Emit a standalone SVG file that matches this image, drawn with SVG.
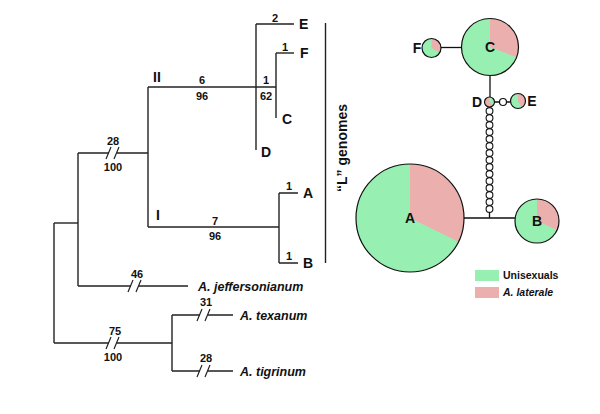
<svg xmlns="http://www.w3.org/2000/svg" width="600" height="414" viewBox="0 0 600 414">
<style>
.br{stroke:#222;stroke-width:1.4;fill:none}
.sl{stroke:#222;stroke-width:1.2;fill:none}
.n{font-family:"Liberation Sans",Arial,sans-serif;font-weight:bold;font-size:11px;fill:#111;text-anchor:middle}
.t{font-family:"Liberation Sans",Arial,sans-serif;font-weight:bold;font-size:14px;fill:#111}
.sp{font-family:"Liberation Sans",Arial,sans-serif;font-weight:bold;font-style:italic;font-size:12.5px;fill:#111}
.g{fill:#97EFB2}
.p{fill:#EBB0AE}
.o{fill:none;stroke:#111;stroke-width:1.2}
.ln{stroke:#111;stroke-width:1.3;fill:none}
.lg{font-family:"Liberation Sans",Arial,sans-serif;font-weight:bold;font-size:10.5px;fill:#111}
</style>
<g id="connectors">
<!-- root -->
<path class="br" d="M54,223 V343"/>
<path class="br" d="M54,223 H78"/>
<path class="br" d="M78,153 V286"/>
<path class="br" d="M78,153 H109 M117,153 H148"/>
<path class="sl" d="M106,159 L111,147 M114,159 L119,147"/>
<path class="br" d="M148,87 V227"/>
<path class="br" d="M148,87 H276"/>
<path class="br" d="M256,24 V150"/>
<path class="br" d="M256,24 H294"/>
<path class="br" d="M276,53 V118"/>
<path class="br" d="M276,53 H294"/>
<path class="br" d="M148,227 H279"/>
<path class="br" d="M279,193 V263"/>
<path class="br" d="M279,193 H298 M279,263 H298"/>
<path class="br" d="M78,286 H131 M139,286 H188"/>
<path class="sl" d="M128,292 L133,280 M136,292 L141,280"/>
<path class="br" d="M54,343 H109 M117,343 H172"/>
<path class="sl" d="M106,349 L111,337 M114,349 L119,337"/>
<path class="br" d="M172,315 V371"/>
<path class="br" d="M172,315 H200 M208,315 H233"/>
<path class="sl" d="M197,321 L202,309 M205,321 L210,309"/>
<path class="br" d="M172,371 H200 M208,371 H233"/>
<path class="sl" d="M197,377 L202,365 M205,377 L210,365"/>
<path class="br" d="M325.5,23 V263"/>
<!-- network links -->
<path class="ln" d="M441,47.5 H461.5"/>
<path class="ln" d="M490,75.5 V97"/>
<path class="ln" d="M494.5,102 H499.5 M506.5,102 H510.5"/>
<path class="ln" d="M489.5,212.4 V218 M464,218 H515"/>
</g>
<g id="tree-labels">
<text class="n" x="275" y="22">2</text>
<text class="t" x="299" y="29">E</text>
<text class="n" x="285" y="51">1</text>
<text class="t" x="300" y="58">F</text>
<text class="t" x="153" y="82">II</text>
<text class="n" x="202" y="84">6</text>
<text class="n" x="202" y="100">96</text>
<text class="n" x="266" y="84">1</text>
<text class="n" x="266" y="100">62</text>
<text class="t" x="282" y="124">C</text>
<text class="t" x="261" y="157">D</text>
<text class="n" x="113" y="145">28</text>
<text class="n" x="113" y="171">100</text>
<text class="n" x="289" y="190">1</text>
<text class="t" x="303" y="198">A</text>
<text class="t" x="156" y="220">I</text>
<text class="n" x="215" y="225">7</text>
<text class="n" x="215" y="240">96</text>
<text class="n" x="289" y="260">1</text>
<text class="t" x="303" y="268">B</text>
<text class="n" x="137" y="278">46</text>
<text class="sp" x="198" y="291">A. jeffersonianum</text>
<text class="n" x="206" y="306">31</text>
<text class="sp" x="240" y="320">A. texanum</text>
<text class="n" x="115" y="335">75</text>
<text class="n" x="113" y="361">100</text>
<text class="n" x="206" y="362">28</text>
<text class="sp" x="240" y="376">A. tigrinum</text>
<text class="t" transform="translate(347,148) rotate(-90)" text-anchor="middle">“L” genomes</text>
</g>
<g id="node-C">
<circle class="g" cx="490" cy="47" r="28.5"/>
<path class="p" d="M490,47 L490,18.5 A28.5,28.5 0 0 1 516.6,57.2 Z"/>
<circle class="o" cx="490" cy="47" r="28.5"/>
<text class="t" x="490" y="52" text-anchor="middle">C</text>
</g>
<g id="node-F">
<circle class="g" cx="431.5" cy="48" r="9.5"/>
<path class="p" d="M431.5,48 L431.5,38.5 A9.5,9.5 0 0 1 439.9,52.5 Z"/>
<circle class="o" cx="431.5" cy="48" r="9.5"/>
<text class="t" x="417" y="53" text-anchor="middle">F</text>
</g>
<g id="node-D">
<circle class="p" cx="489.5" cy="102" r="5"/>
<path class="g" d="M489.5,102 L489.5,97 A5,5 0 0 1 493.3,105.2 Z"/>
<circle class="o" cx="489.5" cy="102" r="5"/>
<text class="t" x="477" y="107" text-anchor="middle">D</text>
</g>
<g id="node-median">
<circle cx="503" cy="102" r="3.5" fill="#fff" stroke="#111" stroke-width="1.2"/>
</g>
<g id="node-E">
<circle class="g" cx="518" cy="101" r="7.5"/>
<path class="p" d="M518,101 L518,93.5 A7.5,7.5 0 0 1 521.75,107.5 Z"/>
<circle class="o" cx="518" cy="101" r="7.5"/>
<text class="t" x="532" y="106" text-anchor="middle">E</text>
</g>
<g id="chain" fill="#fff" stroke="#111" stroke-width="1.1">
<circle cx="489.5" cy="111" r="3.4"/>
<circle cx="489.5" cy="118" r="3.4"/>
<circle cx="489.5" cy="125" r="3.4"/>
<circle cx="489.5" cy="132" r="3.4"/>
<circle cx="489.5" cy="139" r="3.4"/>
<circle cx="489.5" cy="146" r="3.4"/>
<circle cx="489.5" cy="153" r="3.4"/>
<circle cx="489.5" cy="160" r="3.4"/>
<circle cx="489.5" cy="167" r="3.4"/>
<circle cx="489.5" cy="174" r="3.4"/>
<circle cx="489.5" cy="181" r="3.4"/>
<circle cx="489.5" cy="188" r="3.4"/>
<circle cx="489.5" cy="195" r="3.4"/>
<circle cx="489.5" cy="202" r="3.4"/>
<circle cx="489.5" cy="209" r="3.4"/>
</g>
<g id="node-A">
<circle class="g" cx="410" cy="218" r="54"/>
<path class="p" d="M410,218 L410,164 A54,54 0 0 1 458.5,241.7 Z"/>
<circle class="o" cx="410" cy="218" r="54"/>
<text class="t" x="410" y="223" text-anchor="middle">A</text>
</g>
<g id="node-B">
<circle class="g" cx="537" cy="221" r="22"/>
<path class="p" d="M537,221 L537,199 A22,22 0 0 1 557.1,229.9 Z"/>
<circle class="o" cx="537" cy="221" r="22"/>
<text class="t" x="537" y="226" text-anchor="middle">B</text>
</g>
<g id="legend">
<rect class="g" x="475" y="270" width="24" height="11"/>
<rect class="p" x="475" y="287" width="24" height="11"/>
<text class="lg" x="503" y="279">Unisexuals</text>
<text class="lg" x="503" y="296" font-style="italic">A. laterale</text>
</g>
</svg>
